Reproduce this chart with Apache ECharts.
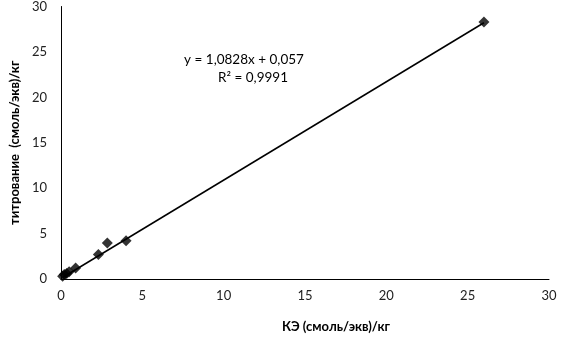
<!DOCTYPE html>
<html>
<head>
<meta charset="utf-8">
<script src="https://cdn.jsdelivr.net/npm/echarts@6/dist/echarts.min.js"></script>
<style>
  html, body { margin: 0; padding: 0; background: #fff; }
</style>
</head>
<body>
<div id="chart" style="width:562px;height:345px"></div>
<script>
    // КЭ vs титрование, смоль(экв)/кг
    var keValues = [0.1, 0.2, 0.35, 0.5, 0.9, 2.3, 2.85, 4.0, 26.0];
    var titrValues = [0.3, 0.5, 0.6, 0.8, 1.2, 2.7, 3.95, 4.2, 28.3];
    var trendSlope = 1.0828;
    var trendIntercept = 0.057;
    var eqText = 'y = 1,0828x + 0,057';
    var r2Text = 'R² = 0,9991';

    var points = keValues.map(function (x, i) { return [x, titrValues[i]]; });
    var xMin = Math.min.apply(null, keValues);
    var xMax = Math.max.apply(null, keValues);
    var trend = [xMin, xMax].map(function (x) { return [x, trendSlope * x + trendIntercept]; });

    var font = 'Lato, "Open Sans", sans-serif';
    var dom = echarts.init(document.getElementById('chart'));
    var option = {
        animation: false,
        backgroundColor: '#fff',
        grid: { left: 57, right: 13, top: 4, bottom: 66 },
        xAxis: {
            type: 'value',
            min: 0, max: 30, interval: 5,
            name: 'КЭ (смоль/экв)/кг',
            nameLocation: 'middle',
            nameGap: 41,
            nameTextStyle: { fontFamily: font, fontSize: 13, fontWeight: 'bold', color: '#000', padding: [0, 0, 0, 62] },
            axisLine: { lineStyle: { color: '#000', width: 1 } },
            axisTick: { show: false },
            splitLine: { show: false },
            axisLabel: { fontFamily: font, fontSize: 13, color: '#222', margin: 10 }
        },
        yAxis: {
            type: 'value',
            min: 0, max: 30, interval: 5,
            name: 'титрование  (смоль/экв)/кг',
            nameLocation: 'middle',
            nameGap: 39,
            nameTextStyle: { fontFamily: font, fontSize: 13, fontWeight: 'bold', color: '#000' },
            axisLine: { show: true, lineStyle: { color: '#000', width: 1 } },
            axisTick: { show: false },
            splitLine: { show: false },
            axisLabel: { fontFamily: font, fontSize: 13, color: '#222', margin: 14 }
        },
        graphic: [
            { type: 'text', x: 244, y: 53, style: { text: eqText, font: '13.5px ' + font, fill: '#000', align: 'center' } },
            { type: 'text', x: 253, y: 71, style: { text: r2Text, font: '13.5px ' + font, fill: '#000', align: 'center' } }
        ],
        series: [
            {
                type: 'line',
                data: trend,
                symbol: 'none',
                lineStyle: { color: '#000', width: 1.5 },
                z: 2
            },
            {
                type: 'scatter',
                data: points,
                symbol: 'diamond',
                symbolSize: 11,
                itemStyle: { color: '#000' },
                z: 3
            }
        ]
    };
    dom.setOption(option);
</script>
</body>
</html>
